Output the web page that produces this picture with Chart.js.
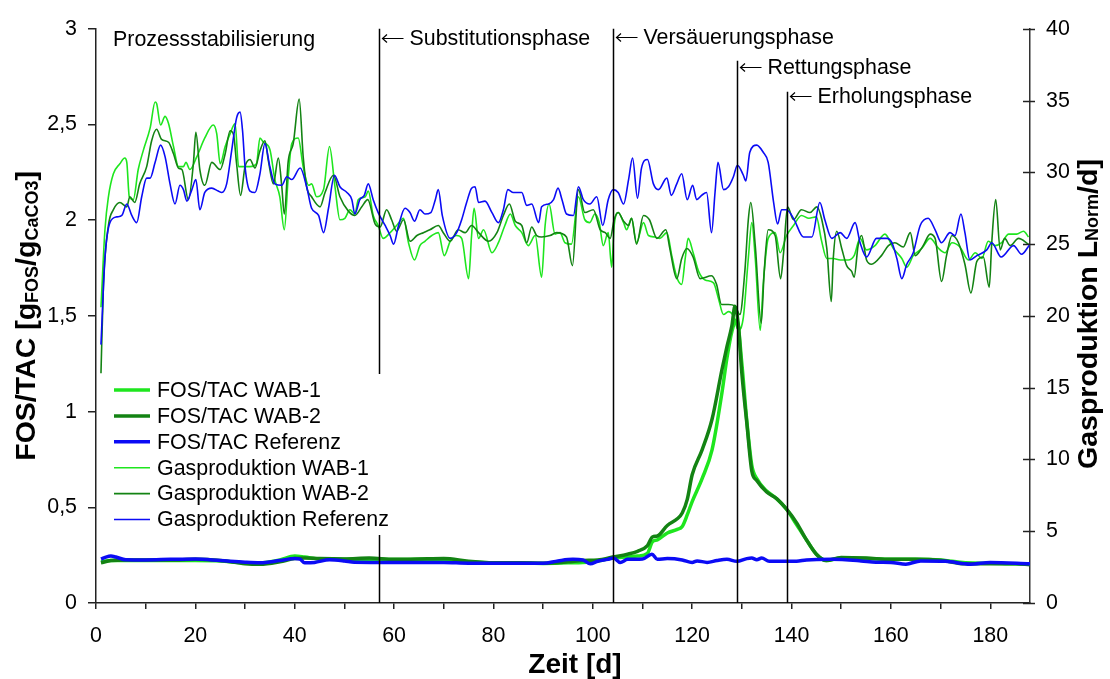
<!DOCTYPE html>
<html lang="de">
<head>
<meta charset="utf-8">
<title>FOS/TAC und Gasproduktion</title>
<script src="https://cdn.jsdelivr.net/npm/chart.js@4.4.1/dist/chart.umd.min.js"></script>
<style>
  html, body { margin: 0; padding: 0; background: #fff; }
  #chart { display: block; }
</style>
</head>
<body>
<canvas id="chart" width="1110" height="679"></canvas>
<script>
// FOS/TAC [gFOS/gCaCO3], left axis
const fosWab1Days = [1, 3, 6, 10, 15, 20, 25, 30, 33, 37, 40, 42, 45, 50, 55, 60, 65, 70, 75, 80,
  85, 90, 95, 98, 101, 104, 107, 109, 111, 112, 113, 115, 117, 118, 119, 120, 122, 124, 126, 127,
  128, 129, 130, 131, 132, 133, 135, 137, 139, 141, 143, 145, 147, 150, 155, 160, 165, 170, 175, 180,
  185, 188];
const fosWab1 = [0.215, 0.222, 0.222, 0.222, 0.222, 0.222, 0.22, 0.21, 0.21, 0.225, 0.245, 0.24, 0.23, 0.228, 0.228, 0.227, 0.228, 0.225, 0.215, 0.21,
  0.21, 0.207, 0.21, 0.212, 0.22, 0.235, 0.241, 0.245, 0.26, 0.32, 0.33, 0.366, 0.385, 0.40, 0.46, 0.53, 0.65, 0.80, 1.10, 1.28,
  1.42, 1.48, 1.25, 0.95, 0.72, 0.65, 0.585, 0.545, 0.49, 0.41, 0.33, 0.255, 0.222, 0.235, 0.233, 0.228, 0.228, 0.225, 0.21, 0.208,
  0.205, 0.205];

const fosWab2Days = [1, 3, 6, 10, 15, 20, 25, 30, 33, 37, 40, 42, 45, 50, 55, 60, 65, 70, 75, 80,
  85, 90, 95, 98, 101, 104, 107, 109, 111, 112, 113, 115, 117, 118, 119, 120, 122, 124, 126, 127,
  128, 128.6, 129.3, 130, 131, 132, 133, 135, 137, 139, 141, 143, 145, 147, 150, 155, 160, 165, 170, 175,
  180, 185, 188];
const fosWab2 = [0.21, 0.222, 0.225, 0.225, 0.225, 0.228, 0.222, 0.205, 0.202, 0.215, 0.232, 0.235, 0.232, 0.23, 0.235, 0.228, 0.23, 0.232, 0.218, 0.21,
  0.21, 0.208, 0.215, 0.222, 0.225, 0.24, 0.255, 0.27, 0.3, 0.345, 0.35, 0.405, 0.44, 0.47, 0.54, 0.67, 0.80, 0.96, 1.22, 1.34,
  1.45, 1.55, 1.45, 1.2, 0.94, 0.69, 0.64, 0.58, 0.545, 0.49, 0.42, 0.33, 0.255, 0.222, 0.238, 0.235, 0.228, 0.228, 0.223, 0.205,
  0.205, 0.205, 0.2];

const fosRefDays = [1, 2, 3, 4, 6, 10, 15, 20, 25, 30, 33, 37, 40, 41, 42, 44, 47, 50, 52, 60,
  70, 75, 80, 90, 93, 96, 98, 99.5, 101, 103, 104.2, 105.5, 107, 110, 111.9, 113, 115, 118, 120, 121,
  123, 125, 127, 129, 131, 132, 133, 134, 135.5, 141, 143, 148, 154, 157, 160, 163, 166, 171, 176, 180,
  188];
const fosRef = [0.23, 0.24, 0.245, 0.24, 0.226, 0.225, 0.228, 0.23, 0.222, 0.213, 0.21, 0.222, 0.232, 0.23, 0.21, 0.212, 0.226, 0.22, 0.213, 0.212,
  0.212, 0.208, 0.208, 0.208, 0.22, 0.228, 0.225, 0.205, 0.218, 0.228, 0.235, 0.212, 0.228, 0.23, 0.255, 0.228, 0.232, 0.225, 0.212, 0.22,
  0.212, 0.222, 0.228, 0.218, 0.232, 0.235, 0.226, 0.235, 0.218, 0.218, 0.225, 0.228, 0.22, 0.213, 0.212, 0.203, 0.22, 0.218, 0.203, 0.212,
  0.205];

// Gasproduktion [LNorm/d], right axis
const gasWab1Days = [1.0, 1.8, 2.5, 3.5, 4.8, 5.8, 6.2, 6.7, 7.5, 8.5,
  9.5, 10.9, 11.9, 12.2, 13.0, 13.9, 14.6, 15.6, 16.6, 17.6,
  18.1, 18.9, 20.3, 21.9, 23.6, 24.3, 25.0, 26.0, 27.0, 28.0,
  28.7, 29.7, 31.0, 32.3, 33.0, 33.7, 35.0, 36.0, 37.0, 37.9,
  38.7, 39.4, 40.7, 41.7, 42.8, 43.4, 44.4, 45.8, 47.0, 48.1,
  49.1, 50.1, 51.1, 52.1, 52.8, 54.2, 54.8, 55.8, 56.8, 57.8,
  59.2, 60.5, 61.9, 62.9, 64.1, 65.2, 66.2, 67.6, 68.9, 70.1,
  71.3, 72.6, 73.6, 75.0, 75.6, 76.1, 77.0, 78.0, 79.7, 81.0,
  82.3, 83.4, 84.4, 85.7, 87.0, 88.4, 89.7, 90.4, 91.2, 92.4,
  93.4, 94.4, 95.7, 97.1, 98.4, 99.4, 100.4, 101.3, 102.1, 103.1,
  103.8, 104.3, 105.1, 106.2, 106.8, 107.8, 108.8, 110.2, 111.2, 112.5,
  113.5, 114.9, 115.9, 116.9, 117.9, 118.6, 119.2, 120.2, 121.3, 122.6,
  124.3, 125.3, 126.3, 127.3, 128.3, 129.3, 130.3, 131.3, 132.0, 132.7,
  133.7, 134.3, 135.3, 136.7, 137.7, 139.0, 140.4, 142.0, 143.5, 145.0,
  146.0, 147.1, 148.4, 149.8, 151.4, 152.6, 153.8, 155.1, 156.8, 158.8,
  160.5, 162.2, 163.2, 164.5, 166.2, 167.9, 169.6, 170.9, 172.3, 173.9,
  175.6, 177.0, 178.3, 179.6, 181.0, 182.3, 183.7, 185.3, 186.7, 187.7];
const gasWab1 = [20.6, 26.0, 28.3, 29.9, 30.6, 31.0, 30.7, 28.3, 28.1, 30.2,
  31.5, 33.1, 34.9, 34.8, 33.3, 33.9, 33.4, 31.8, 30.4, 30.4,
  30.7, 30.2, 31.1, 32.4, 33.3, 32.7, 30.6, 31.8, 32.7, 33.4,
  30.4, 30.4, 30.4, 30.6, 32.4, 32.1, 31.6, 29.5, 28.3, 26.0,
  29.7, 32.0, 32.4, 30.4, 29.1, 29.2, 28.3, 28.8, 31.8, 29.0,
  26.7, 26.8, 27.4, 27.1, 28.1, 28.3, 28.7, 27.0, 26.3, 25.4,
  25.8, 26.3, 26.8, 25.1, 23.9, 24.9, 25.2, 25.6, 25.8, 24.2,
  25.2, 25.6, 25.4, 22.6, 25.6, 27.5, 25.4, 26.0, 24.4, 25.1,
  26.3, 27.1, 26.3, 25.8, 24.9, 25.6, 22.7, 26.3, 27.8, 25.7,
  25.8, 25.1, 25.0, 28.3, 26.7, 26.5, 27.1, 26.5, 24.9, 25.8,
  23.4, 26.3, 27.2, 26.5, 26.0, 26.8, 25.1, 26.5, 25.6, 25.5,
  25.4, 25.8, 24.2, 22.7, 22.2, 24.0, 25.4, 24.4, 23.1, 22.5,
  22.3, 21.2, 20.1, 20.3, 20.0, 19.0, 19.9, 24.0, 26.5, 24.0,
  19.0, 22.2, 25.4, 25.8, 24.4, 25.6, 26.3, 27.0, 26.8, 26.9,
  25.3, 24.0, 24.0, 23.9, 23.9, 24.2, 25.4, 24.6, 24.9, 25.7,
  24.7, 24.0, 23.4, 24.2, 24.7, 25.4, 24.7, 24.4, 25.1, 24.8,
  23.9, 24.4, 24.0, 25.2, 24.9, 25.1, 25.7, 25.7, 25.9, 25.5];

const gasWab2Days = [1.0, 1.5, 2.5, 3.5, 4.8, 6.2, 6.8, 7.8, 8.8, 10.2,
  11.2, 12.2, 13.2, 14.6, 15.6, 16.6, 17.3, 18.6, 19.6, 20.1,
  20.9, 21.9, 23.3, 25.0, 26.0, 27.0, 27.7, 28.3, 29.1, 30.0,
  31.0, 32.0, 33.0, 34.0, 34.7, 35.7, 36.7, 37.4, 37.9, 38.7,
  39.7, 40.9, 41.7, 42.4, 43.4, 45.1, 46.1, 47.8, 49.1, 50.8,
  52.1, 53.5, 54.7, 56.2, 57.2, 58.5, 59.5, 60.5, 61.9, 63.2,
  64.6, 65.9, 67.2, 68.9, 69.9, 71.3, 72.9, 74.3, 75.6, 77.0,
  79.0, 80.7, 82.0, 83.2, 84.4, 85.7, 86.7, 87.7, 88.7, 89.7,
  91.4, 92.7, 94.7, 95.9, 97.1, 98.4, 100.1, 101.5, 102.5, 103.5,
  104.3, 105.1, 106.2, 107.2, 107.8, 108.8, 110.2, 111.4, 112.9, 114.7,
  115.5, 116.9, 117.9, 118.9, 120.2, 121.6, 123.9, 124.9, 125.9, 127.3,
  128.6, 129.6, 130.6, 131.3, 131.8, 132.7, 133.9, 134.5, 135.3, 136.7,
  137.8, 138.4, 139.2, 140.4, 142.0, 143.7, 145.1, 146.1, 147.1, 148.0,
  148.4, 149.1, 150.1, 151.1, 152.1, 152.6, 153.4, 154.1, 155.1, 156.1,
  158.1, 159.5, 160.8, 162.5, 163.9, 164.9, 166.5, 167.9, 168.9, 170.2,
  171.2, 172.3, 173.6, 174.9, 176.1, 177.3, 178.6, 179.8, 180.3, 181.1,
  182.0, 182.9, 184.0, 185.7, 187.7];
const gasWab2 = [16.0, 22.2, 26.3, 27.4, 27.9, 27.6, 28.3, 27.9, 29.2, 30.4,
  32.2, 33.0, 32.3, 32.1, 31.3, 30.3, 30.2, 28.1, 30.6, 32.8,
  30.2, 29.1, 30.7, 30.2, 31.3, 32.9, 32.6, 30.6, 28.4, 30.4,
  30.9, 30.3, 31.5, 32.2, 30.8, 29.2, 31.0, 29.0, 27.1, 30.8,
  32.0, 35.1, 31.1, 29.0, 28.3, 27.6, 28.6, 29.8, 28.3, 27.3,
  27.0, 27.6, 28.1, 26.4, 26.2, 27.4, 26.7, 25.9, 26.7, 25.2,
  25.6, 25.8, 26.0, 26.3, 25.8, 25.2, 26.0, 25.8, 26.3, 25.8,
  25.2, 25.8, 27.0, 27.8, 26.6, 26.3, 25.1, 26.2, 25.6, 25.5,
  25.6, 25.8, 25.5, 23.5, 28.8, 27.2, 27.4, 26.0, 25.8, 25.4,
  26.7, 27.2, 26.6, 26.3, 26.8, 25.0, 27.0, 26.7, 25.4, 26.0,
  24.7, 22.6, 24.0, 24.7, 24.1, 22.6, 22.8, 22.2, 20.8, 20.8,
  20.7, 20.1, 23.1, 26.7, 27.9, 24.9, 19.5, 23.1, 26.0, 25.6,
  22.6, 24.4, 27.6, 26.7, 27.4, 27.2, 27.6, 26.7, 24.7, 21.0,
  24.0, 25.9, 24.7, 23.5, 23.1, 22.7, 24.9, 25.6, 23.9, 23.6,
  24.2, 24.9, 25.1, 24.8, 25.8, 24.2, 24.9, 25.7, 25.4, 22.4,
  24.2, 25.6, 25.1, 23.6, 21.6, 23.8, 24.1, 22.0, 25.1, 28.1,
  24.6, 25.4, 24.9, 25.4, 25.0];

const gasRefDays = [1.0, 1.8, 2.8, 4.2, 5.2, 6.2, 7.2, 8.2, 9.2, 10.2,
  10.9, 11.9, 13.0, 13.9, 14.9, 15.9, 16.9, 17.6, 18.3, 19.3,
  20.1, 20.9, 21.9, 23.3, 24.6, 25.3, 26.3, 27.3, 28.3, 29.0,
  29.5, 30.0, 31.0, 32.0, 33.0, 34.0, 35.0, 36.0, 37.4, 38.4,
  39.4, 41.1, 42.4, 43.4, 44.8, 45.8, 46.8, 48.0, 49.1, 50.5,
  51.5, 52.1, 53.1, 54.0, 54.8, 55.8, 56.8, 58.2, 59.2, 59.9,
  60.9, 62.2, 63.2, 64.1, 65.2, 66.2, 67.4, 68.3, 68.9, 69.7,
  71.3, 72.6, 73.6, 74.6, 75.6, 76.3, 77.0, 78.3, 79.7, 81.0,
  82.0, 82.9, 84.0, 85.7, 86.7, 87.7, 89.1, 89.7, 91.1, 92.1,
  93.0, 93.8, 94.7, 96.1, 97.1, 98.1, 99.4, 100.8, 102.0, 103.1,
  104.1, 105.1, 106.2, 107.2, 108.0, 109.0, 109.8, 111.0, 112.2, 113.2,
  114.9, 115.8, 116.9, 117.9, 119.0, 120.1, 120.9, 121.9, 122.9, 123.9,
  124.6, 125.2, 126.3, 127.3, 128.3, 129.1, 130.3, 130.8, 131.6, 133.0,
  134.3, 135.3, 136.4, 137.2, 138.0, 139.0, 140.4, 142.4, 144.1, 145.7,
  146.7, 148.1, 149.8, 151.1, 152.8, 153.8, 155.1, 157.1, 159.2, 160.2,
  161.2, 162.2, 163.2, 164.5, 165.9, 167.5, 168.9, 170.2, 171.9, 172.9,
  174.1, 174.9, 175.9, 177.3, 179.3, 180.3, 182.2, 184.7, 186.3, 188.0];
const gasRef = [18.0, 24.0, 26.5, 26.9, 27.0, 27.8, 27.0, 26.5, 28.3, 29.6,
  29.6, 30.7, 31.9, 31.1, 29.2, 27.8, 29.1, 28.8, 28.0, 28.8,
  29.5, 27.4, 28.6, 28.9, 28.7, 28.6, 29.2, 31.5, 33.8, 34.2,
  32.9, 30.4, 28.7, 28.6, 29.9, 32.0, 30.4, 29.2, 29.1, 29.7,
  29.5, 30.3, 29.0, 27.5, 27.0, 25.8, 27.5, 29.8, 29.0, 28.6,
  28.1, 27.1, 28.1, 28.4, 29.2, 28.1, 27.2, 26.3, 25.6, 25.0,
  26.3, 27.5, 27.2, 26.6, 27.4, 27.1, 27.2, 28.1, 28.8, 27.0,
  25.4, 25.8, 26.7, 27.9, 28.9, 29.0, 27.9, 28.0, 27.2, 26.5,
  27.4, 28.8, 28.6, 28.6, 27.7, 27.8, 26.5, 27.6, 27.8, 28.1,
  28.9, 28.1, 27.1, 27.0, 29.0, 28.1, 27.8, 28.3, 26.3, 28.1,
  28.8, 28.6, 27.8, 29.5, 31.0, 28.2, 30.3, 30.9, 29.2, 28.8,
  29.6, 28.4, 29.2, 29.9, 28.1, 29.1, 28.1, 28.4, 28.6, 25.8,
  28.6, 30.7, 28.8, 29.0, 29.7, 30.5, 29.8, 29.4, 31.4, 31.9,
  31.4, 30.7, 27.9, 26.4, 27.4, 27.4, 26.8, 25.5, 25.5, 27.9,
  26.7, 25.4, 25.8, 25.4, 26.5, 25.1, 24.1, 25.4, 25.4, 25.1,
  24.0, 22.6, 23.6, 24.4, 26.3, 26.8, 26.0, 25.1, 25.8, 25.6,
  27.1, 25.8, 23.9, 24.2, 24.6, 25.1, 24.1, 24.9, 24.3, 25.0];

// process phases: start day and name
const phaseDays = [1, 57, 104, 129, 139];
const phaseNames = ["Prozessstabilisierung", "Substitutionsphase", "Versäuerungsphase", "Rettungsphase", "Erholungsphase"];

// axis ticks
const xTicks = [0, 10, 20, 30, 40, 50, 60, 70, 80, 90, 100, 110, 120, 130, 140, 150, 160, 170, 180];
const fosTicks = [0, 0.5, 1, 1.5, 2, 2.5, 3];
const gasTicks = [0, 5, 10, 15, 20, 25, 30, 35, 40];

const LIME = "#1ee61e";
const GREEN = "#138313";
const BLUE = "#0b0bf5";
const FONT = "'Liberation Sans', Arial, sans-serif";
const LABEL_SIZE = 21.4;

Chart.defaults.font.family = FONT;
Chart.defaults.color = "#000";

function toPoints(days, values) {
  return days.map((d, i) => ({ x: d, y: values[i] }));
}

function line(label, days, values, axis, color, width, order) {
  return {
    label: label,
    data: toPoints(days, values),
    yAxisID: axis,
    borderColor: color,
    backgroundColor: color,
    borderWidth: width,
    pointRadius: 0,
    fill: false,
    cubicInterpolationMode: "monotone",
    order: order
  };
}

// draws text made of normal and small (subscript) parts, centred on the current origin
function drawParts(ctx, parts, bigFont, smallFont, subShift) {
  let total = 0;
  parts.forEach(p => {
    ctx.font = p.sub ? smallFont : bigFont;
    p.w = ctx.measureText(p.text).width;
    total += p.w;
  });
  let x = -total / 2;
  parts.forEach(p => {
    ctx.font = p.sub ? smallFont : bigFont;
    ctx.fillText(p.text, x, p.sub ? subShift : 0);
    x += p.w;
  });
}

// thin left-pointing arrow in front of a phase name
function leftArrow(ctx, x, y) {
  ctx.save();
  ctx.lineWidth = 1.2;
  ctx.beginPath();
  ctx.moveTo(x + 21, y);
  ctx.lineTo(x, y);
  ctx.moveTo(x + 4.5, y - 4);
  ctx.lineTo(x, y);
  ctx.lineTo(x + 4.5, y + 4);
  ctx.stroke();
  ctx.restore();
}

const decorations = {
  id: "decorations",
  afterDraw(chart) {
    const ctx = chart.ctx;
    const area = chart.chartArea;
    const xs = chart.scales.x;
    const gas = chart.scales.yGas;

    ctx.save();
    ctx.fillStyle = "#000";
    ctx.strokeStyle = "#000";

    // phase boundaries
    const lineTops = [0, 0, 0, 32, 63];
    const labelBase = [46, 45, 44, 74, 103];
    ctx.font = LABEL_SIZE + "px " + FONT;
    ctx.textBaseline = "alphabetic";
    ctx.textAlign = "left";
    phaseDays.forEach((d, i) => {
      if (i === 0) {
        ctx.fillText(phaseNames[i], area.left + 17, labelBase[i]);
        return;
      }
      const px = Math.round(xs.getPixelForValue(d)) + 0.5;
      ctx.lineWidth = 1.5;
      ctx.beginPath();
      ctx.moveTo(px, area.top + lineTops[i]);
      ctx.lineTo(px, area.bottom);
      ctx.stroke();
      leftArrow(ctx, px + 3, labelBase[i] - 6.5);
      ctx.fillText(phaseNames[i], px + 30, labelBase[i]);
    });

    // legend
    const lx = 106, ly = 374, rowH = 25.9;
    ctx.fillStyle = "#fff";
    ctx.fillRect(lx, ly, 292, 161);
    ctx.textBaseline = "middle";
    chart.data.datasets.forEach((ds, i) => {
      const y = ly + 16 + i * rowH;
      ctx.strokeStyle = ds.borderColor;
      ctx.lineWidth = ds.borderWidth;
      ctx.beginPath();
      ctx.moveTo(lx + 8, y);
      ctx.lineTo(lx + 44, y);
      ctx.stroke();
      ctx.fillStyle = "#000";
      ctx.fillText(ds.label, lx + 51, y + 1);
    });

    // right axis tick marks crossing the axis line
    ctx.strokeStyle = "#222";
    ctx.lineWidth = 1.5;
    gas.ticks.forEach(t => {
      const y = Math.round(gas.getPixelForValue(t.value)) + 0.5;
      ctx.beginPath();
      ctx.moveTo(area.right - 7, y);
      ctx.lineTo(area.right + 5, y);
      ctx.stroke();
    });

    // axis titles
    ctx.fillStyle = "#000";
    ctx.textAlign = "left";
    ctx.textBaseline = "alphabetic";
    const big = "bold 28.5px " + FONT;
    const small = "bold 18px " + FONT;

    ctx.save();
    ctx.translate(35, (area.top + area.bottom) / 2);
    ctx.rotate(-Math.PI / 2);
    drawParts(ctx, [
      { text: "FOS/TAC [g" }, { text: "FOS", sub: true }, { text: "/g" },
      { text: "CaCO3", sub: true }, { text: "]" }
    ], big, small, 3);
    ctx.restore();

    ctx.save();
    ctx.translate(1097, 314);
    ctx.rotate(-Math.PI / 2);
    drawParts(ctx, [
      { text: "Gasproduktion L" }, { text: "Norm", sub: true }, { text: "/d]" }
    ], big, small, 1);
    ctx.restore();

    ctx.font = "bold 28px " + FONT;
    ctx.textAlign = "center";
    ctx.fillText("Zeit [d]", 575, 673);

    ctx.restore();
  }
};

new Chart(document.getElementById("chart").getContext("2d"), {
  type: "line",
  data: {
    datasets: [
      line("FOS/TAC WAB-1", fosWab1Days, fosWab1, "yFos", LIME, 3.5, 2),
      line("FOS/TAC WAB-2", fosWab2Days, fosWab2, "yFos", GREEN, 3.5, 1),
      line("FOS/TAC Referenz", fosRefDays, fosRef, "yFos", BLUE, 3.5, 0),
      line("Gasproduktion WAB-1", gasWab1Days, gasWab1, "yGas", LIME, 1.6, 5),
      line("Gasproduktion WAB-2", gasWab2Days, gasWab2, "yGas", GREEN, 1.6, 4),
      line("Gasproduktion Referenz", gasRefDays, gasRef, "yGas", BLUE, 1.6, 3)
    ]
  },
  options: {
    responsive: false,
    animation: false,
    devicePixelRatio: 1,
    layout: { padding: { top: 20, left: 0, right: 0, bottom: 0 } },
    plugins: {
      legend: { display: false },
      tooltip: { enabled: false }
    },
    scales: {
      x: {
        type: "linear",
        position: "bottom",
        min: 0,
        max: 188,
        afterFit: s => { s.height = 76; },
        afterBuildTicks: s => { s.ticks = xTicks.map(v => ({ value: v })); },
        border: { color: "#222", width: 1.5 },
        grid: { drawOnChartArea: false, drawTicks: true, tickLength: 6, color: "#222", lineWidth: 1.5 },
        ticks: {
          autoSkip: false,
          maxRotation: 0,
          padding: 14,
          font: { size: LABEL_SIZE },
          callback: v => (v % 20 === 0 ? String(v) : "")
        }
      },
      yFos: {
        type: "linear",
        position: "left",
        min: 0,
        max: 3,
        afterFit: s => { s.width = 96; },
        afterBuildTicks: s => { s.ticks = fosTicks.map(v => ({ value: v })); },
        border: { color: "#222", width: 1.5 },
        grid: { drawOnChartArea: false, drawTicks: true, tickLength: 8, color: "#222", lineWidth: 1.5 },
        ticks: {
          padding: 11,
          font: { size: LABEL_SIZE },
          callback: v => String(v).replace(".", ",")
        }
      },
      yGas: {
        type: "linear",
        position: "right",
        min: 0,
        max: 40,
        afterFit: s => { s.width = 80; },
        afterBuildTicks: s => { s.ticks = gasTicks.map(v => ({ value: v })); },
        border: { color: "#333", width: 1.5 },
        grid: { drawOnChartArea: false, drawTicks: false },
        ticks: {
          padding: 16,
          font: { size: LABEL_SIZE }
        }
      }
    }
  },
  plugins: [decorations]
});
</script>
</body>
</html>
